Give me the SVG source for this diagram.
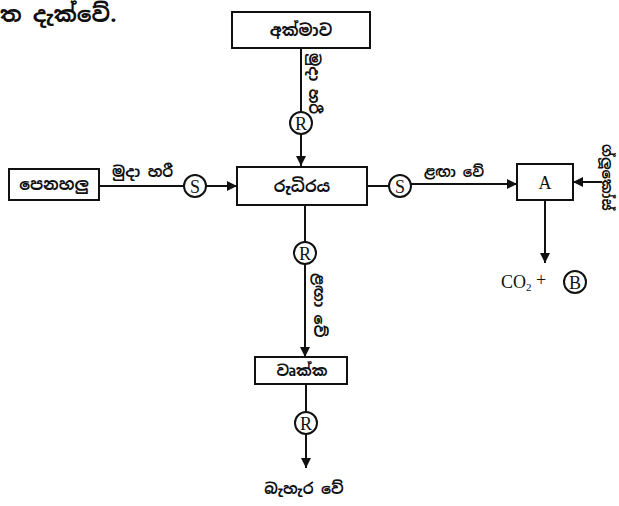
<svg xmlns="http://www.w3.org/2000/svg" width="619" height="506" viewBox="0 0 619 506">
<style>
.box{fill:#fff;stroke:#111;stroke-width:2}
.ln{fill:none;stroke:#111;stroke-width:2}
.cir{fill:#fff;stroke:#111;stroke-width:2}
.si{font-family:"Noto Sans Sinhala","Noto Sans",sans-serif;fill:#111;font-size:15px;font-weight:bold}
.bx{font-size:16px}
.lt{font-family:"Liberation Serif",serif;fill:#111;font-size:18px;text-anchor:middle}
.c{text-anchor:middle}
</style>
<defs>
<marker id="ah" viewBox="0 0 10 10" refX="10" refY="5" markerWidth="5.5" markerHeight="5" orient="auto" markerUnits="strokeWidth">
<path d="M0,0 L10,5 L0,10 z" fill="#111"/>
</marker>
</defs>
<rect width="619" height="506" fill="#fff"/>
<text x="0" y="22" class="si" style="font-size:22px">ත දැක්වේ.</text>

<g id="connectors">
<line class="ln" x1="301" y1="48" x2="301" y2="112"/>
<line class="ln" x1="301" y1="134" x2="301" y2="166" marker-end="url(#ah)"/>
<line class="ln" x1="99" y1="186" x2="184" y2="186"/>
<line class="ln" x1="206" y1="186" x2="237" y2="186" marker-end="url(#ah)"/>
<line class="ln" x1="367" y1="186" x2="389" y2="186"/>
<line class="ln" x1="411" y1="184" x2="517" y2="184" marker-end="url(#ah)"/>
<line class="ln" x1="602" y1="182" x2="573" y2="182" marker-end="url(#ah)"/>
<line class="ln" x1="545" y1="200" x2="545" y2="263" marker-end="url(#ah)"/>
<line class="ln" x1="305" y1="205" x2="305" y2="242"/>
<line class="ln" x1="305" y1="264" x2="305" y2="357" marker-end="url(#ah)"/>
<line class="ln" x1="306" y1="384" x2="306" y2="412"/>
<line class="ln" x1="306" y1="434" x2="306" y2="468" marker-end="url(#ah)"/>
<text class="si" transform="translate(309,53) rotate(90)">මුදා හරී</text>
<text class="si" x="112" y="177">මුදා හරී</text>
<text class="si" x="424" y="177" style="font-size:14px">ළඟා වේ</text>
<text class="si" transform="translate(314,273) rotate(90)">ළඟා වේ</text>
<text class="si" transform="translate(602,144) rotate(90)" style="font-size:14px">ග්ලූකෝස්</text>
</g>

<g id="liver">
<rect class="box" x="232" y="12" width="138" height="36"/>
<text class="si bx c" x="301" y="36">අක්මාව</text>
</g>
<g id="lungs">
<rect class="box" x="9" y="169" width="90" height="31"/>
<text class="si bx c" x="54" y="190">පෙනහලු</text>
</g>
<g id="blood">
<rect class="box" x="237" y="167" width="130" height="38"/>
<text class="si bx c" x="302" y="192">රුධිරය</text>
</g>
<g id="kidney">
<rect class="box" x="255" y="357" width="92" height="27"/>
<text class="si c" x="302" y="376">වෘක්ක</text>
</g>
<g id="A">
<rect class="box" x="517" y="164" width="56" height="36"/>
<text class="lt" x="545" y="189">A</text>
</g>
<g id="R1"><circle class="cir" cx="301" cy="123" r="11"/><text class="lt" x="301" y="129.5">R</text></g>
<g id="S1"><circle class="cir" cx="195" cy="186" r="11"/><text class="lt" x="195" y="192.5">S</text></g>
<g id="S2"><circle class="cir" cx="400" cy="186" r="11"/><text class="lt" x="400" y="192.5">S</text></g>
<g id="R2"><circle class="cir" cx="305" cy="253" r="11"/><text class="lt" x="305" y="259.5">R</text></g>
<g id="R3"><circle class="cir" cx="306" cy="423" r="11"/><text class="lt" x="306" y="429.5">R</text></g>
<g id="product">
<text class="lt" x="501" y="288" style="text-anchor:start">CO<tspan font-size="11" dy="3">2</tspan><tspan dy="-5"> +</tspan></text>
<circle class="cir" cx="575" cy="282" r="11"/><text class="lt" x="575" y="288.5">B</text>
</g>
<g id="excrete">
<text class="si c" x="304" y="494">බැහැර වේ</text>
</g>
</svg>
